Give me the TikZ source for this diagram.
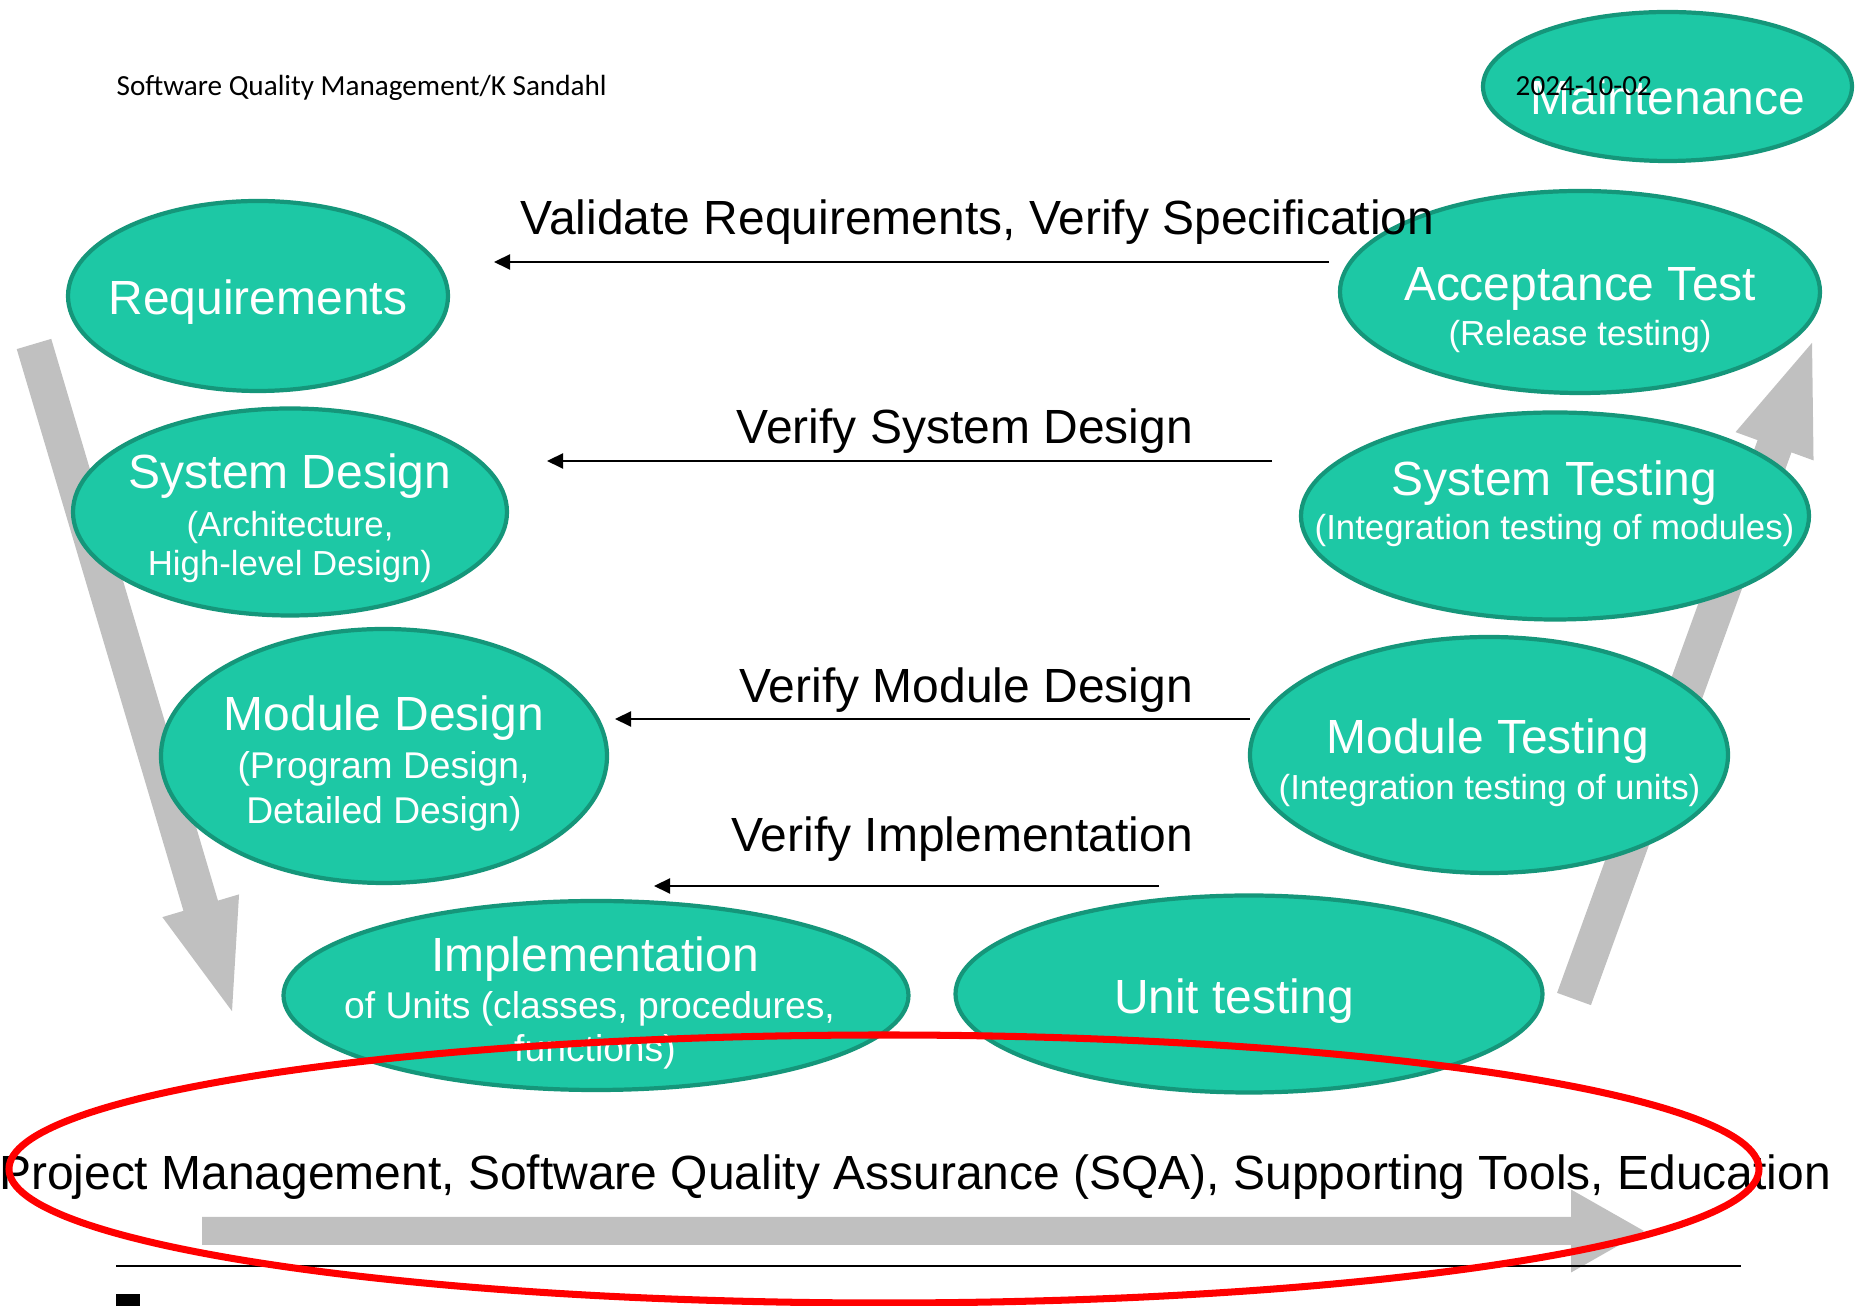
\documentclass[tikz,border=0pt]{standalone}
\usepackage{fontspec}
\setmainfont{Liberation Sans}
\newfontfamily\slidefont{Carlito}
\usetikzlibrary{arrows.meta,shapes.geometric}
\definecolor{phasefill}{RGB}{29,200,165}
\definecolor{phaseedge}{RGB}{21,150,122}
\definecolor{flowgray}{RGB}{192,192,192}
\definecolor{scopered}{RGB}{255,0,0}
\newcommand{\flowarrow}[6]{%
  % Block arrow leaving #1 at angle #2: overall length #3, head length #4,
  % shaft width #5 and head width #6.
  \begin{scope}[shift={#1}, rotate=#2]
    \fill[flowgray] (0,-#5/2) -- ({#3-#4},-#5/2) -- ({#3-#4},-#6/2) -- (#3,0)
      -- ({#3-#4},#6/2) -- ({#3-#4},#5/2) -- (0,#5/2) -- cycle;
  \end{scope}%
}

\begin{document}
\begin{tikzpicture}[
  phase/.style={ellipse, draw=phaseedge, fill=phasefill, line width=1.2pt,
    inner sep=0pt},
  phasetitle/.style={text=white, font=\fontsize{13.65}{16}\selectfont,
    anchor=base, inner sep=0pt},
  phasenote/.style={text=white, font=\fontsize{9.9}{12}\selectfont,
    anchor=base, inner sep=0pt},
  widenote/.style={phasenote, font=\fontsize{10.6}{12}\selectfont},
  checkline/.style={line width=.6pt, -{Triangle[length=1.6mm,width=1.5mm]}},
  checklabel/.style={font=\fontsize{13.65}{16}\selectfont, anchor=base east,
    inner sep=0pt},
  slidetext/.style={font=\slidefont\fontsize{8.3}{10}\selectfont,
    anchor=base west, inner sep=0pt}]
  \useasboundingbox (0,0) rectangle (18.55,-13.06);

  % The two legs of the V run underneath the phase ellipses.
  \flowarrow{(0.34,-3.44)}{-73.47}{6.96}{1.10}{0.36}{0.80}
  \flowarrow{(15.74,-9.99)}{70.06}{6.98}{1.10}{0.36}{0.83}

  % Specification side.
  \node[phase, minimum width=3.80cm, minimum height=1.90cm] (req) at (2.58,-2.96) {};
  \node[phase, minimum width=4.34cm, minimum height=2.07cm] (sysdes) at (2.90,-5.12) {};
  \node[phase, minimum width=4.46cm, minimum height=2.54cm] (moddes) at (3.84,-7.56) {};
  \node[phase, minimum width=6.25cm, minimum height=1.89cm] (impl) at (5.96,-9.955) {};

  % Testing side.
  \node[phase, minimum width=5.87cm, minimum height=1.97cm] (unittest) at (12.49,-9.94) {};
  \node[phase, minimum width=4.78cm, minimum height=2.36cm] (modtest) at (14.89,-7.55) {};
  \node[phase, minimum width=5.08cm, minimum height=2.07cm] (systest) at (15.55,-5.16) {};
  \node[phase, minimum width=4.80cm, minimum height=2.02cm] (accept) at (15.80,-2.92) {};
  \node[phase, minimum width=3.69cm, minimum height=1.49cm] (maint) at (16.675,-0.865) {};

  % Phase texts, one line at a time on their baselines.
  \node[phasetitle] (req-t) at (2.58,-3.145) {Requirements};
  \node[phasetitle] (sysdes-t) at (2.90,-4.89) {System Design};
  \node[phasenote] (sysdes-a) at (2.90,-5.365) {(Architecture,};
  \node[phasenote] (sysdes-b) at (2.90,-5.755) {High-level Design)};
  \node[phasetitle] (moddes-t) at (3.84,-7.31) {Module Design};
  \node[widenote] (moddes-a) at (3.835,-7.785) {(Program Design,};
  \node[widenote] (moddes-b) at (3.84,-8.235) {Detailed Design)};
  \node[phasetitle] (impl-t) at (5.95,-9.715) {Implementation};
  \node[widenote] (impl-a) at (5.895,-10.19) {of Units (classes, procedures,};
  \node[widenote] (impl-b) at (5.95,-10.615) {functions)};
  \node[phasetitle] (unittest-t) at (12.34,-10.135) {Unit testing};
  \node[phasetitle] (modtest-t) at (14.88,-7.535) {Module Testing};
  \node[phasenote] (modtest-a) at (14.895,-7.995) {(Integration testing of units)};
  \node[phasetitle] (systest-t) at (15.545,-4.955) {System Testing};
  \node[phasenote] (systest-a) at (15.545,-5.40) {(Integration testing of modules)};
  \node[phasetitle] (accept-t) at (15.80,-3.005) {Acceptance Test};
  \node[phasenote] (accept-a) at (15.80,-3.455) {(Release testing)};
  \node[phasetitle] (maint-t) at (16.68,-1.145) {Maintenance};

  % Slide header and date.
  \node[slidetext] (header) at (1.16,-0.955) {Software Quality Management/K Sandahl};
  \node[slidetext] (date) at (15.15,-0.955) {2024-10-02};

  % Verification arrows pointing back to the specification side.
  \coordinate (valfrom) at (13.29,-2.62);
  \coordinate (valto) at (4.94,-2.62);
  \coordinate (sysfrom) at (12.72,-4.61);
  \coordinate (systo) at (5.47,-4.61);
  \coordinate (modfrom) at (12.50,-7.19);
  \coordinate (modto) at (6.15,-7.19);
  \coordinate (implfrom) at (11.59,-8.86);
  \coordinate (implto) at (6.54,-8.86);
  \draw[checkline] (valfrom) -- (valto);
  \draw[checkline] (sysfrom) -- (systo);
  \draw[checkline] (modfrom) -- (modto);
  \draw[checkline] (implfrom) -- (implto);
  \node[checklabel, anchor=base west] (val-l) at (5.20,-2.35)
    {Validate Requirements, Verify Specification};
  \node[checklabel] (sys-l) at (11.935,-4.435) {Verify System Design};
  \node[checklabel] (mod-l) at (11.935,-7.03) {Verify Module Design};
  \node[checklabel] (impl-l) at (11.935,-8.52) {Verify Implementation};

  % Supporting activities along the bottom.
  \flowarrow{(2.02,-12.31)}{0}{14.42}{0.73}{0.28}{0.83}
  \node[checklabel, anchor=base] (support) at (9.15,-11.895)
    {Project Management, Software Quality Assurance (SQA), Supporting Tools, Education};
  \draw[line width=.7pt] (1.16,-12.66) -- (17.41,-12.66);
  \fill (1.16,-12.94) rectangle (1.40,-13.06);

  % Highlight ring drawn last so it crosses everything beneath it.
  \draw[scopered, line width=2pt] (8.84,-11.69) ellipse [x radius=8.75, y radius=1.34];
\end{tikzpicture}
\end{document}
